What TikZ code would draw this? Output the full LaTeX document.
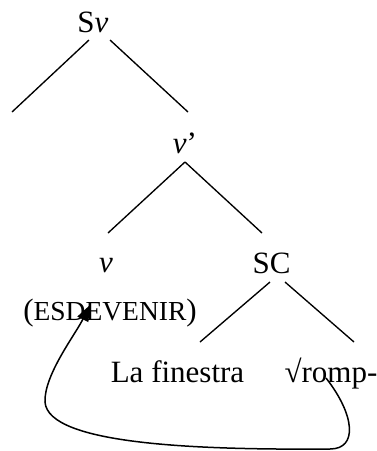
\documentclass[tikz,border=0pt]{standalone}
\usepackage{fontspec}
\setmainfont{Liberation Serif}
\usetikzlibrary{arrows.meta}
\begin{document}
\begin{tikzpicture}[x=1pt,y=-1pt,
  lab/.style={inner sep=0pt,anchor=base,font=\fontsize{31}{36}\selectfont},
  branch/.style={line width=1.35pt},
  move/.style={line width=1.5pt,-{Triangle[length=16pt,width=12pt]}}]
\useasboundingbox (0,0) rectangle (377,451);
\node[lab] (Sv) at (93,32) {S\textit{v}};
\node[lab] (vbar) at (185,153) {\textit{v}’};
\node[lab] (v) at (106,272) {\textit{v}};
\node[lab] (esd) at (110,320) {(\fontsize{27.5}{30}\selectfont ESDEVENIR\fontsize{31}{36}\selectfont)};
\node[lab] (SC) at (271.5,273) {SC};
\node[lab] (la) at (177.5,382) {La finestra};
\node[lab] (romp) at (331,382) {√romp-};
% branch end points
\coordinate (svL) at (89,40);
\coordinate (svR) at (110,40);
\coordinate (leaf) at (12,112);
\coordinate (vbT) at (188,112);
\coordinate (vbB) at (185,162);
\coordinate (vT) at (108,233);
\coordinate (scT) at (262,233);
\coordinate (scL) at (270,282);
\coordinate (scR) at (285,282);
\coordinate (laT) at (200,342);
\coordinate (rT) at (354,342);
\draw[branch] (svL) -- (leaf);
\draw[branch] (svR) -- (vbT);
\draw[branch] (vbB) -- (vT);
\draw[branch] (vbB) -- (scT);
\draw[branch] (scL) -- (laT);
\draw[branch] (scR) -- (rT);
% movement arrow
\coordinate (mstart) at (326,378);
\coordinate (mtip) at (90,305);
\draw[move] (mstart) .. controls (355,415) and (358,449) .. (330,449)
  .. controls (200,450) and (48,445) .. (45,402)
  .. controls (44,375) and (75,335) .. (mtip);
\end{tikzpicture}
\end{document}
